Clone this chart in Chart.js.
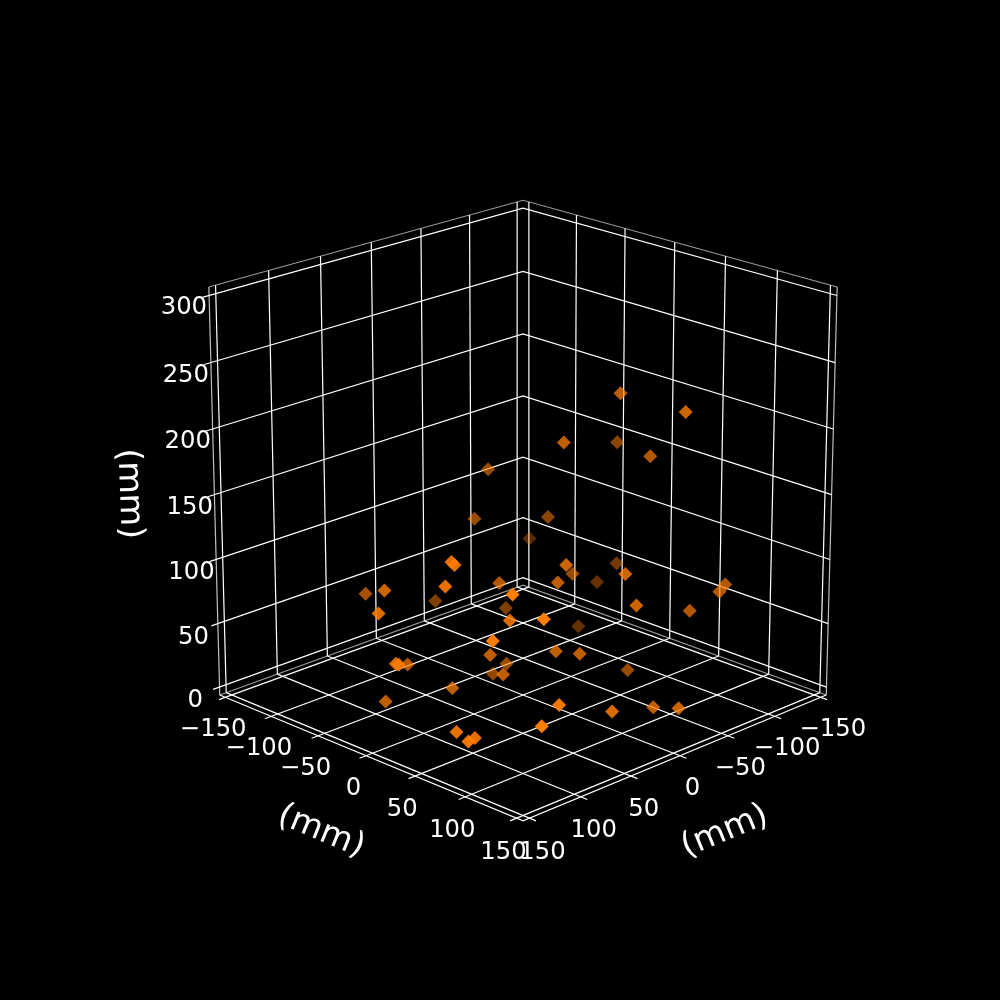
<!DOCTYPE html>
<html>
<head>
<meta charset="utf-8">
<title>scatter 3d</title>
<script src="https://cdn.jsdelivr.net/npm/chart.js@4"></script>
<style>
  html, body { margin: 0; background: #000; }
  canvas { display: block; }
</style>
</head>
<body>
<canvas id="chart" width="1000" height="1000"></canvas>
<script>
// Data, all in mm
const planTicks = [-150, -100, -50, 0, 50, 100, 150];
const heightTicks = [0, 50, 100, 150, 200, 250, 300];
const unitLabel = "(mm)";

const pointsA = [-60, -58, 44, 46, 45, -99, -83, -20, 7, 1, 114, -61, 65, -113, 47, 100, 27, -15,
  56, -38, 66, 2, 48, -52, -28, 97, 116, 114, 108, 102, 133, -53, 112, 26, 59, 71,
  -16, -30, 36, 48, 138, 131, 117, 147, 149, 24, 27, -31, -18, 13, 75, 96, 85];
const pointsB = [-24, -8, 114, 113, 121, -7, 78, 118, 149, 25, 124, -43, 78, -120, -51, -62, -14, -113,
  -73, -64, 23, -49, 13, -131, -127, -5, -89, -85, -5, -67, 113, -112, 141, 59, 26, 14,
  1, 1, 56, -60, 103, 43, -14, -8, 131, 149, 149, 86, 120, 84, 140, 149, 132];
const pointsHeight = [148, 114, 141, 139, 125, 38, 72, 103, 102, 89, 139, 33, 93, 54, 226, 222, 193, 158,
  175, 106, 120, 76, 99, 32, 55, 114, 88, 83, 93, 70, 123, 1, 109, 50, 53, 51,
  14, 2, 37, 10, 58, 33, 15, 25, 54, 69, 69, 34, 19, 28, 30, 32, 26];

// Camera of the 3d box, elevation 20, corner towards the viewer
const elev = 20 * Math.PI / 180;
const sinE = Math.sin(elev), cosE = Math.cos(elev);
const focal = 4197, camDist = 13.6, zScale = 0.7032;
const centreX = 523, centreY = 494.6;
const box = 156.25;       // half width of the panes
const boxLow = -6.25, boxHigh = 306.25;
const tickOut = 162.5;

function depth(a, b, h) {
  const w = (h - 150) / box * zScale;
  return (a + b) / (2 * box) * cosE + w * sinE;
}

function project(a, b, h) {
  const u = a / box, v = b / box;
  const w = (h - 150) / box * zScale;
  const side = (u - v) / 2, fwd = (u + v) / 2;
  const up = w * cosE - fwd * sinE;
  const k = focal / (camDist - depth(a, b, h));
  return { x: centreX + side * k, y: centreY - up * k };
}

function line3d(points, color, width) {
  return {
    type: "scatter",
    data: points.map(p => project(p[0], p[1], p[2])),
    showLine: true,
    borderColor: color,
    borderWidth: width,
    pointRadius: 0,
    order: 2,
    fill: false,
  };
}

const gridColor = "rgba(255,255,255,1)";
const paneColor = "rgba(255,255,255,0.6)";
const datasets = [];

// Floor and wall grid
planTicks.forEach(t => {
  datasets.push(line3d([[t, -box, boxLow], [t, tickOut, boxLow]], gridColor, 1.2));
  datasets.push(line3d([[-box, t, boxLow], [tickOut, t, boxLow]], gridColor, 1.2));
  datasets.push(line3d([[-box, t, boxLow], [-box, t, boxHigh]], gridColor, 1.2));
  datasets.push(line3d([[t, -box, boxLow], [t, -box, boxHigh]], gridColor, 1.2));
});
heightTicks.forEach(t => {
  datasets.push(line3d([[-box, tickOut, t], [-box, -box, t], [box, -box, t]], gridColor, 1.2));
});

// Pane edges and the two front axis lines
datasets.push(line3d([[-box, box, boxHigh], [-box, -box, boxHigh], [box, -box, boxHigh]], paneColor, 1.2));
datasets.push(line3d([[-box, box, boxLow], [-box, -box, boxLow], [box, -box, boxLow]], paneColor, 1.2));
datasets.push(line3d([[-box, box, boxLow], [-box, box, boxHigh]], "rgba(255,255,255,0.75)", 1.2));
datasets.push(line3d([[box, -box, boxLow], [box, -box, boxHigh]], "rgba(255,255,255,0.75)", 1.2));
datasets.push(line3d([[-box, box, boxLow], [box, box, boxLow], [box, -box, boxLow]], gridColor, 1.2));

// Scatter, nearer points are brighter
const pointAlpha = pointsA.map((a, i) => {
  const q = depth(a, pointsB[i], pointsHeight[i]);
  return Math.min(1, Math.max(0.3, 0.35 + (q + 0.85) / 1.55 * 0.65));
});
datasets.push({
  type: "scatter",
  data: pointsA.map((a, i) => project(a, pointsB[i], pointsHeight[i])),
  pointStyle: "rectRot",
  pointRadius: 7,
  pointBorderWidth: 0,
  pointBackgroundColor: pointAlpha.map(al => `rgba(255,125,0,${al.toFixed(2)})`),
  showLine: false,
  order: 1,
});

const minus = v => String(v).replace("-", "\u2212");

// Tick and axis labels go through the chart scales as well
const textPlugin = {
  id: "boxText",
  afterDraw(chart) {
    const ctx = chart.ctx, sx = chart.scales.x, sy = chart.scales.y;
    const put = (text, p, size, rot) => {
      ctx.save();
      ctx.translate(sx.getPixelForValue(p.x), sy.getPixelForValue(p.y));
      ctx.rotate(rot * Math.PI / 180);
      ctx.font = `${size}px "DejaVu Sans"`;
      ctx.fillStyle = "#fff";
      ctx.textAlign = "center";
      ctx.textBaseline = "middle";
      ctx.fillText(text, 0, 0);
      ctx.restore();
    };
    planTicks.forEach(t => {
      put(minus(t), project(t, 168.75, -27.8), 24.3, 0);
      put(minus(t), project(168.75, t, -27.8), 24.3, 0);
    });
    heightTicks.forEach(t => {
      put(String(t), project(-box, 179.7, t - 4), 24.3, 0);
    });
    put(unitLabel, project(0, 200, -51), 33.3, 22.4);
    put(unitLabel, project(200, 0, -51), 33.3, -22.4);
    put(unitLabel, project(-box, 235, 171), 33.3, 88);
  },
};

new Chart(document.getElementById("chart"), {
  type: "scatter",
  data: { datasets },
  options: {
    responsive: false,
    animation: false,
    layout: { padding: 0, autoPadding: false },
    plugins: { legend: { display: false }, tooltip: { enabled: false } },
    scales: {
      x: { type: "linear", min: 0, max: 1000, display: false },
      y: { type: "linear", min: 0, max: 1000, reverse: true, display: false },
    },
  },
  plugins: [textPlugin],
});
</script>
</body>
</html>
